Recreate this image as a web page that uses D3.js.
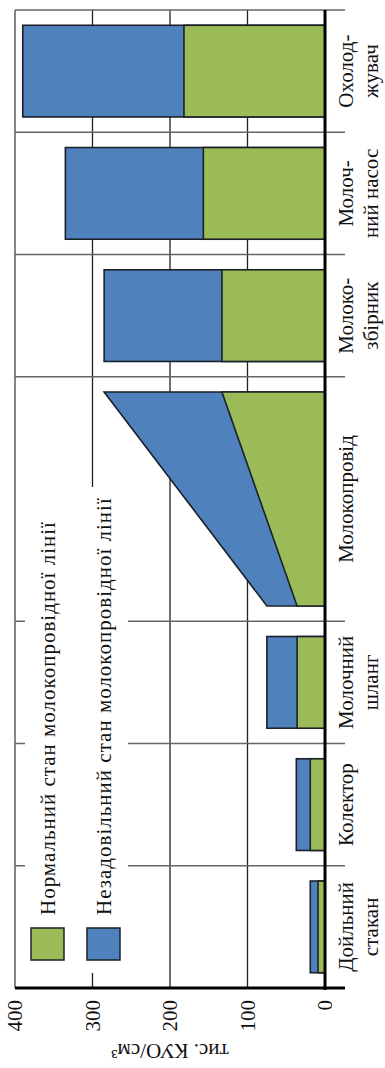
<!DOCTYPE html>
<html>
<head>
<meta charset="utf-8">
<script src="https://cdn.jsdelivr.net/npm/d3@7"></script>
<style>
  html, body { margin: 0; padding: 0; background: #fff; }
  svg { display: block; }
</style>
</head>
<body>
<script>
// Categories along the milk line (the pipeline section spans two slots)
const categories = ["Дойльний стакан", "Колектор", "Молочний шланг", "Молокопровід", "Молокозбірник", "Молочний насос", "Охолоджувач"];
const categoryLines = [["Дойльний", "стакан"], ["Колектор"], ["Молочний", "шланг"], ["Молокопровід"], ["Молоко-", "збірник"], ["Молоч-", "ний насос"], ["Охолод-", "жувач"]];
const categorySpan = [1, 1, 1, 2, 1, 1, 1];

// Bacterial contamination, thousand CFU/cm³
const normalValues = [9, 19, 36, null, 133, 157, 182];
const unsatisfactoryValues = [19, 37, 75, null, 285, 335, 390];
// Pipeline: value at its inlet and at its outlet
const pipelineNormal = [36, 133];
const pipelineUnsatisfactory = [75, 285];

const valueTicks = [0, 100, 200, 300, 400];
const seriesNames = ["Нормальний стан молокопровідної лінії", "Незадовільний стан молокопровідної лінії"];
const seriesColors = ["#9bbb59", "#4f81bd"];
const axisTitle = "тис. КУО/см³";

const W = 385, H = 1068;
const FONT = "'Liberation Serif', 'Times New Roman', serif";

const svg = d3.select("body").append("svg")
  .attr("width", W).attr("height", H)
  .style("background", "#fff");

// The chart is laid out as an ordinary column chart and turned a quarter turn
const g = svg.append("g").attr("transform", `translate(0,${H}) rotate(-90)`);

const units = d3.sum(categorySpan);
const x = d3.scaleLinear().domain([0, units]).range([80, 1058]);
const y = d3.scaleLinear().domain([0, 400]).range([325, 15]);

const starts = [];
categorySpan.reduce((acc, s, i) => { starts[i] = acc; return acc + s; }, 0);

const inset = 0.125;

// Value gridlines
g.append("g").selectAll("line")
  .data(valueTicks.filter(v => v > 0))
  .join("line")
  .attr("x1", x(0)).attr("x2", x(units))
  .attr("y1", d => y(d)).attr("y2", d => y(d))
  .attr("stroke", d => d === 400 ? "#444" : "#222")
  .attr("stroke-width", 1.3);

// Category separators, running past the zero line
const bounds = starts.slice(1).concat([units]);
g.append("g").selectAll("line")
  .data(bounds)
  .join("line")
  .attr("x1", d => x(d)).attr("x2", d => x(d))
  .attr("y1", y(400)).attr("y2", 345)
  .attr("stroke", "#666")
  .attr("stroke-width", 1.3);

// Legend panel
const legend = g.append("g");
legend.append("rect")
  .attr("x", 95).attr("y", 25)
  .attr("width", 486).attr("height", 103)
  .attr("fill", "#fff");
seriesNames.forEach((name, i) => {
  const top = 31 + i * 56;
  legend.append("rect")
    .attr("x", 108).attr("y", top)
    .attr("width", 32).attr("height", 33)
    .attr("fill", seriesColors[i])
    .attr("stroke", "#1d232b").attr("stroke-width", 1.5);
  legend.append("text")
    .attr("x", 153).attr("y", top + 24)
    .attr("font-family", FONT).attr("font-size", 21)
    .attr("letter-spacing", 1)
    .attr("fill", "#111")
    .text(name);
});

// Columns: unsatisfactory level behind, normal level in front
const bars = g.append("g");
categories.forEach((c, i) => {
  if (normalValues[i] == null) return;
  const bx = x(starts[i] + inset);
  const bw = x(starts[i] + categorySpan[i] - inset) - bx;
  [unsatisfactoryValues[i], normalValues[i]].forEach((v, k) => {
    bars.append("rect")
      .attr("x", bx).attr("width", bw)
      .attr("y", y(v)).attr("height", y(0) - y(v))
      .attr("fill", seriesColors[1 - k])
      .attr("stroke", "#1b2029").attr("stroke-width", 1.6);
  });
});

// Pipeline: rising wedge between inlet and outlet values
const pi = categories.indexOf("Молокопровід");
const px0 = x(starts[pi] + inset);
const px1 = x(starts[pi] + categorySpan[pi] - inset);
[pipelineUnsatisfactory, pipelineNormal].forEach((vals, k) => {
  const pts = [[px0, y(0)], [px0, y(vals[0])], [px1, y(vals[1])], [px1, y(0)]];
  bars.append("path")
    .attr("d", d3.line()(pts) + "Z")
    .attr("fill", seriesColors[1 - k])
    .attr("stroke", "#1b2029").attr("stroke-width", 1.6)
    .attr("stroke-linejoin", "miter");
});

// Zero line
g.append("line")
  .attr("x1", x(0) - 2).attr("x2", x(units))
  .attr("y1", y(0)).attr("y2", y(0))
  .attr("stroke", "#000").attr("stroke-width", 3);

// Value axis
const axis = g.append("g")
  .attr("transform", `translate(${x(0)},0)`)
  .call(d3.axisLeft(y).tickValues(valueTicks).tickSizeInner(0).tickSizeOuter(0).tickPadding(12));
axis.select(".domain").remove();
axis.selectAll("text")
  .attr("font-family", FONT).attr("font-size", 21).attr("fill", "#111");
g.append("line")
  .attr("x1", x(0)).attr("x2", x(0))
  .attr("y1", y(400)).attr("y2", 345)
  .attr("stroke", "#000").attr("stroke-width", 2.8);

// Axis title
g.append("text")
  .attr("transform", `translate(24,${y(200)}) rotate(-90)`)
  .attr("text-anchor", "middle")
  .attr("font-family", FONT).attr("font-size", 21).attr("fill", "#111")
  .text(axisTitle);

// Category labels
const labels = g.append("g");
categories.forEach((c, i) => {
  const cx = x(starts[i] + categorySpan[i] / 2);
  categoryLines[i].forEach((line, j) => {
    labels.append("text")
      .attr("x", cx).attr("y", 353 + j * 25)
      .attr("text-anchor", "middle")
      .attr("font-family", FONT).attr("font-size", 21).attr("fill", "#111")
      .text(line);
  });
});
</script>
</body>
</html>
